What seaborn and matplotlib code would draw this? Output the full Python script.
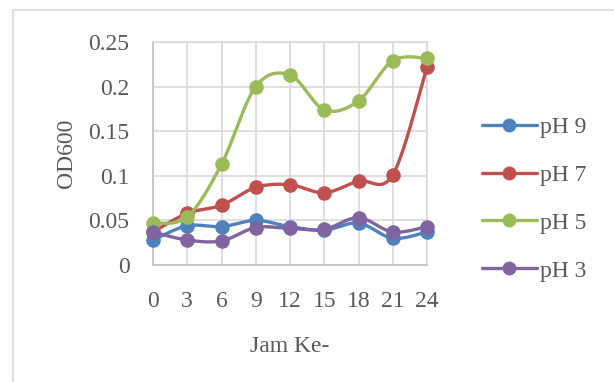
import numpy as np
import pandas as pd
import matplotlib
matplotlib.use("Agg")
import matplotlib.pyplot as plt
from matplotlib.lines import Line2D
from matplotlib.patches import Rectangle
import seaborn as sns

# Sampling hours and OD600 readings per pH treatment
hours = [0, 3, 6, 9, 12, 15, 18, 21, 24]
ph9 = [0.028, 0.044, 0.043, 0.050, 0.043, 0.039, 0.047, 0.030, 0.037]
ph7 = [0.037, 0.058, 0.067, 0.087, 0.090, 0.081, 0.094, 0.101, 0.222]
ph5 = [0.047, 0.054, 0.113, 0.200, 0.213, 0.174, 0.184, 0.229, 0.232]
ph3 = [0.037, 0.028, 0.027, 0.042, 0.041, 0.040, 0.053, 0.037, 0.043]
series_names = ["pH 9", "pH 7", "pH 5", "pH 3"]
y_ticks = [0, 0.05, 0.1, 0.15, 0.2, 0.25]
y_tick_labels = ["0", "0.05", "0.1", "0.15", "0.2", "0.25"]

colors = ["#4F81BD", "#C0504D", "#9BBB59", "#8064A2"]
text_color = "#595959"
grid_color = "#d9d9d9"
FS = 17

sns.set_theme(style="white")
plt.rcParams["font.family"] = ["Liberation Serif", "DejaVu Serif"]


def smooth_curve(xs, ys, steps=30):
    """Cubic Bezier smoothing between points (spreadsheet-style smoothed line)."""
    xs = np.asarray(xs, float)
    ys = np.asarray(ys, float)
    px = np.concatenate([[xs[0]], xs, [xs[-1]]])
    py = np.concatenate([[ys[0]], ys, [ys[-1]]])
    out_x, out_y = [], []
    t = np.linspace(0, 1, steps)
    for i in range(1, len(px) - 2):
        p0 = np.array([px[i], py[i]])
        p3 = np.array([px[i + 1], py[i + 1]])
        c1 = p0 + (np.array([px[i + 1], py[i + 1]]) - np.array([px[i - 1], py[i - 1]])) / 6
        c2 = p3 - (np.array([px[i + 2], py[i + 2]]) - np.array([px[i], py[i]])) / 6
        b = ((1 - t) ** 3)[:, None] * p0 + (3 * (1 - t) ** 2 * t)[:, None] * c1 \
            + (3 * (1 - t) * t ** 2)[:, None] * c2 + (t ** 3)[:, None] * p3
        out_x.extend(b[:, 0])
        out_y.extend(b[:, 1])
    return out_x, out_y


fig = plt.figure(figsize=(6.14, 3.82), dpi=100)
ax = fig.add_axes([153 / 614, 1 - 265 / 382, (427 - 153) / 614, (265 - 42) / 382])

# Chart frame (light border around chart area)
fig.patches.append(Rectangle((13 / 614, -0.1), 1.0, 1 - 10 / 382 + 0.1,
                             transform=fig.transFigure, fill=False,
                             edgecolor=grid_color, linewidth=1.2, zorder=0))

handles = []
for k, (name, vals) in enumerate(zip(series_names, [ph9, ph7, ph5, ph3])):
    sx, sy = smooth_curve(hours, vals)
    curve = pd.DataFrame({"x": sx, "y": sy})
    sns.lineplot(data=curve, x="x", y="y", sort=False, ax=ax, color=colors[k],
                 linewidth=2.4, zorder=3 + k, clip_on=False)
    pts = pd.DataFrame({"x": hours, "y": vals})
    sns.scatterplot(data=pts, x="x", y="y", ax=ax, color=colors[k], s=110,
                    edgecolor=colors[k], linewidth=0, zorder=3 + k, clip_on=False)
    handles.append(Line2D([0], [0], color=colors[k], linewidth=2.4, marker="o",
                          markersize=10, markeredgewidth=0))

ax.set_xlim(0, 24)
ax.set_ylim(0, 0.25)
ax.set_xticks(hours)
ax.set_xticklabels([str(h) for h in hours])
ax.set_yticks(y_ticks)
ax.set_yticklabels(y_tick_labels)
ax.grid(True, color=grid_color, linewidth=1.2)
ax.set_axisbelow(True)
for side in ["top", "right"]:
    ax.spines[side].set_color(grid_color)
    ax.spines[side].set_linewidth(1.2)
for side in ["left", "bottom"]:
    ax.spines[side].set_color("#bfbfbf")
    ax.spines[side].set_linewidth(1.2)
ax.tick_params(axis="both", length=0, labelsize=FS, colors=text_color)
ax.tick_params(axis="x", pad=19)
ax.tick_params(axis="y", pad=17)
ax.set_xlabel("Jam Ke-", fontsize=FS, color=text_color, labelpad=17)
ax.set_ylabel("OD600", fontsize=FS, color=text_color, labelpad=8)

fig.legend(handles, series_names, loc="center left",
           bbox_to_anchor=(461 / 614, 1 - 199 / 382), frameon=False,
           fontsize=FS, labelcolor=text_color, handlelength=2.3,
           handletextpad=0.15, labelspacing=1.12)

fig.savefig("out.png", dpi=100)
